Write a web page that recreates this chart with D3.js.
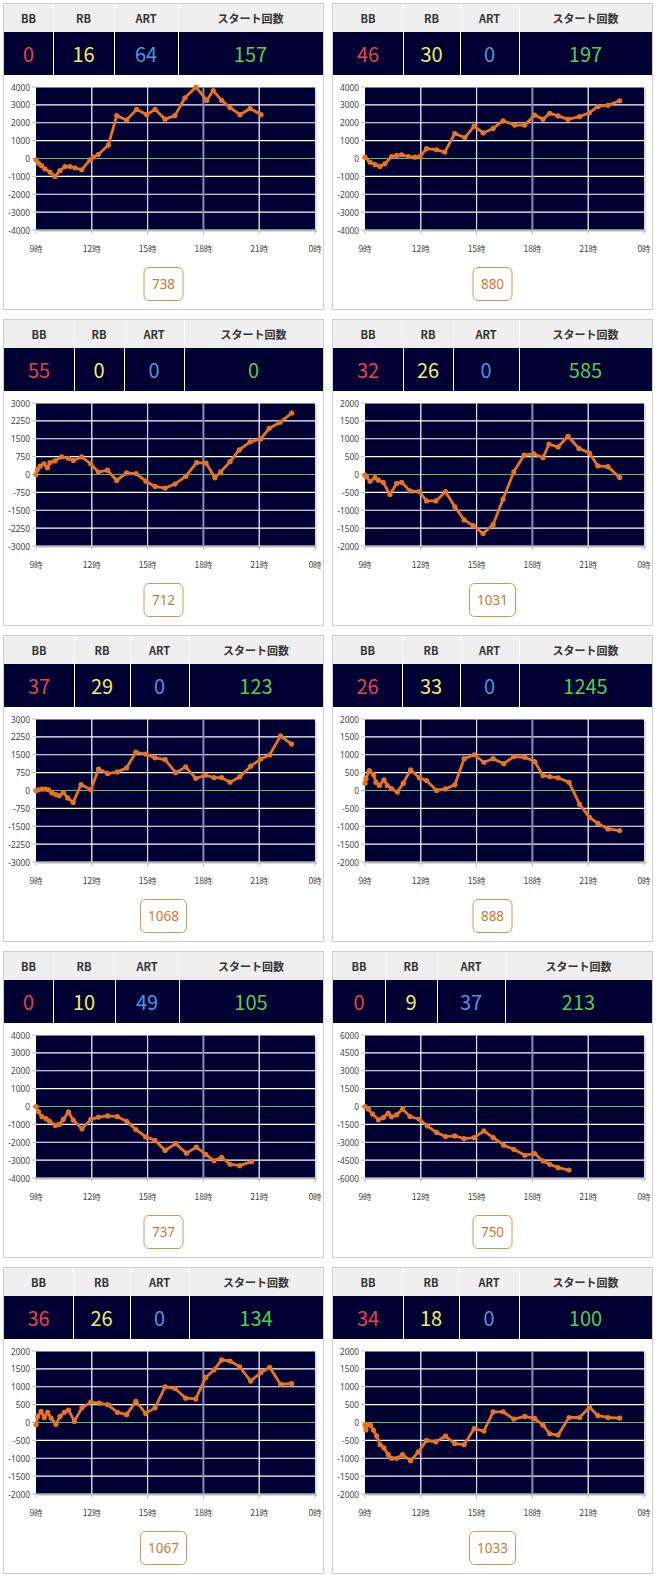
<!DOCTYPE html>
<html><head><meta charset="utf-8">
<script src="https://cdn.jsdelivr.net/npm/d3@7"></script>
<style>body{margin:0;background:#fff}</style>
</head><body><svg id="c" width="658" height="1580"></svg>
<script>
// ---------- data ----------
const headerLabels = ["BB", "RB", "ART", "スタート回数"];
const bbCounts    = [0, 46, 55, 32, 37, 26, 0, 0, 36, 34];
const rbCounts    = [16, 30, 0, 26, 29, 33, 10, 9, 26, 18];
const artCounts   = [64, 0, 0, 0, 0, 0, 49, 37, 0, 0];
const startCounts = [157, 197, 0, 585, 123, 1245, 105, 213, 134, 100];
const totalGames  = [738, 880, 712, 1031, 1068, 888, 737, 750, 1067, 1033];
const yLimits     = [4000, 4000, 3000, 2000, 3000, 2000, 4000, 6000, 2000, 2000];
const hourTicks   = [9, 12, 15, 18, 21, 24];
const hourLabels  = ["9時", "12時", "15時", "18時", "21時", "0時"];

const p1Hours = [9.0,9.13,9.30,9.48,9.75,10.02,10.29,10.56,10.83,11.10,11.46,11.90,12.08,12.35,12.89,13.34,13.87,14.41,14.95,15.40,15.94,16.47,17.01,17.60,18.18,18.53,18.98,19.43,19.97,20.51,21.10];
const p1Values = [-70,-260,-400,-580,-760,-1000,-670,-450,-450,-520,-630,-80,80,220,750,2400,2150,2750,2450,2750,2200,2400,3400,4000,3250,3800,3250,2850,2450,2800,2450];
const p2Hours = [9.0,9.27,9.54,9.80,10.07,10.43,10.70,10.97,11.33,11.68,11.95,12.31,12.85,13.29,13.83,14.37,14.87,15.35,15.89,16.42,17.05,17.59,18.12,18.57,18.93,19.38,19.91,20.54,21.07,21.52,22.06,22.69];
const p2Values = [75,-210,-340,-450,-300,110,170,210,110,75,110,550,490,360,1400,1170,1810,1430,1680,2110,1870,1870,2430,2190,2530,2380,2190,2340,2570,2910,2980,3230];
const p3Hours = [9.0,9.07,9.22,9.43,9.61,9.75,10.02,10.38,10.74,11.01,11.46,11.94,12.35,12.84,13.34,13.87,14.38,14.91,15.40,15.94,16.47,17.06,17.64,18.14,18.62,18.93,19.43,19.93,20.51,21.08,21.54,22.12,22.75];
const p3Values = [0,210,350,450,280,500,570,740,680,590,740,450,100,180,-250,70,40,-280,-500,-570,-400,-70,500,480,-140,110,540,1030,1370,1490,1940,2190,2580];
const p4Hours = [9.0,9.09,9.27,9.54,9.72,9.98,10.34,10.70,10.97,11.42,11.92,12.31,12.81,13.33,13.83,14.33,14.81,15.35,15.89,16.42,17.00,17.55,18.07,18.57,18.89,19.38,19.91,20.50,21.07,21.52,22.06,22.69];
const p4Values = [-20,-65,-190,-90,-160,-220,-560,-250,-220,-460,-480,-740,-740,-480,-900,-1270,-1430,-1650,-1400,-690,75,540,580,470,850,770,1070,730,600,240,220,-85];
const p5Hours = [9.0,9.14,9.32,9.50,9.68,9.86,10.07,10.25,10.47,10.70,11.00,11.42,11.95,12.36,12.85,13.38,13.87,14.37,14.90,15.40,15.94,16.51,17.05,17.59,18.12,18.57,18.98,19.43,19.95,20.54,21.08,21.56,22.15,22.74];
const p5Values = [0,30,60,60,30,-110,-170,-210,-85,-310,-500,250,30,900,710,780,950,1610,1530,1370,1300,750,990,510,640,540,540,350,570,1020,1320,1490,2290,1950];
const p6Hours = [9.0,9.05,9.23,9.45,9.59,9.77,10.02,10.20,10.43,10.74,11.06,11.45,11.92,12.31,12.85,13.33,13.83,14.33,14.87,15.39,15.89,16.46,17.00,17.59,18.12,18.57,18.93,19.38,19.97,20.54,21.07,21.52,22.06,22.69];
const p6Values = [205,330,560,450,230,140,300,140,50,-45,205,580,355,280,0,45,160,890,1000,790,890,750,950,930,810,420,390,355,230,-390,-750,-920,-1075,-1120];
const p7Hours = [9.0,9.14,9.32,9.54,9.72,10.04,10.25,10.47,10.75,11.00,11.47,11.95,12.36,12.85,13.38,13.88,14.37,14.90,15.40,15.94,16.51,17.09,17.62,18.12,18.57,18.98,19.43,19.95,20.59];
const p7Values = [0,-300,-570,-680,-810,-1060,-1000,-720,-300,-760,-1250,-720,-590,-530,-570,-830,-1290,-1700,-1890,-2460,-2080,-2610,-2270,-2670,-3040,-2840,-3230,-3310,-3080];
const p8Hours = [9.0,9.18,9.41,9.72,9.98,10.25,10.43,10.70,11.02,11.42,11.92,12.35,12.85,13.33,13.83,14.33,14.87,15.39,15.89,16.46,17.00,17.59,18.12,18.57,18.93,19.38,19.97];
const p8Values = [0,-220,-640,-1120,-930,-560,-870,-700,-220,-840,-1070,-1630,-2190,-2520,-2470,-2690,-2610,-2050,-2610,-3250,-3590,-4090,-3950,-4570,-4850,-5130,-5330];
const p9Hours = [9.0,9.09,9.27,9.45,9.63,9.81,10.07,10.29,10.52,10.75,11.06,11.47,11.95,12.40,12.85,13.38,13.87,14.37,14.90,15.40,15.94,16.48,17.05,17.59,18.12,18.57,18.98,19.43,19.95,20.54,21.08,21.56,22.15,22.74];
const p9Values = [-65,170,310,140,285,125,-50,170,285,350,30,410,570,540,500,285,220,590,255,410,1000,950,680,660,1260,1470,1750,1720,1560,1160,1390,1545,1070,1090];
const p10Hours = [9.0,9.05,9.18,9.30,9.45,9.63,9.81,10.02,10.25,10.43,10.70,11.02,11.45,11.86,12.31,12.81,13.33,13.83,14.33,14.87,15.39,15.89,16.42,17.00,17.59,18.12,18.57,18.93,19.38,19.97,20.54,21.07,21.52,22.06,22.69];
const p10Values = [-75,-210,-50,-75,-210,-380,-620,-710,-900,-1000,-1000,-900,-1070,-830,-500,-540,-380,-590,-620,-170,-240,300,300,95,170,115,-75,-315,-350,140,140,430,190,140,125];

const seriesHours  = [p1Hours, p2Hours, p3Hours, p4Hours, p5Hours, p6Hours, p7Hours, p8Hours, p9Hours, p10Hours];
const seriesValues = [p1Values, p2Values, p3Values, p4Values, p5Values, p6Values, p7Values, p8Values, p9Values, p10Values];

// ---------- layout (not data) ----------
const colX = [3, 332], panelW = 321, panelH = 307, rowY0 = 3, rowStep = 316;
const colSeps = [[50,111,175],[71,128,187],[71,121,181],[71,121,187],[71,127,186],[70,128,187],[50,112,176],[53,105,173],[70,127,186],[71,127,187]];
const valueColors = ["#e8424f", "#f2ee6a", "#4a98e0", "#4fd14f"];
const JP = "'Noto Sans CJK JP','Noto Sans',sans-serif";
const lineColor = "#e8741f";

const svg = d3.select("#c");
svg.append("rect").attr("width", 658).attr("height", 1580).attr("fill", "#fff");

for (let i = 0; i < 10; i++) {
  const px = colX[i % 2], py = rowY0 + Math.floor(i / 2) * rowStep;
  const g = svg.append("g").attr("transform", `translate(${px},${py})`);
  g.append("rect").attr("x", 0.5).attr("y", 0.5).attr("width", panelW - 1).attr("height", panelH - 1)
    .attr("fill", "#fff").attr("stroke", "#cfcfcf");

  // header table
  g.append("rect").attr("x", 1).attr("y", 1).attr("width", panelW - 2).attr("height", 28).attr("fill", "#efefef");
  g.append("rect").attr("x", 1).attr("y", 29).attr("width", panelW - 2).attr("height", 43).attr("fill", "#000033");
  const edges = [1, ...colSeps[i], panelW - 1];
  colSeps[i].forEach(s => {
    g.append("line").attr("x1", s + 0.5).attr("x2", s + 0.5).attr("y1", 1).attr("y2", 72)
      .attr("stroke", "#fff").attr("stroke-width", 1);
  });
  const vals = [bbCounts[i], rbCounts[i], artCounts[i], startCounts[i]];
  for (let c = 0; c < 4; c++) {
    const cx = (edges[c] + edges[c + 1]) / 2;
    g.append("text").attr("x", cx).attr("y", 15).attr("text-anchor", "middle").attr("dominant-baseline", "central")
      .attr("font-family", JP).attr("font-weight", "bold").attr("font-size", 11).attr("fill", "#333").text(headerLabels[c]);
    g.append("text").attr("x", cx).attr("y", 50).attr("text-anchor", "middle").attr("dominant-baseline", "central")
      .attr("font-family", JP).attr("font-size", 20).attr("fill", valueColors[c]).text(vals[c]);
  }

  // chart
  const x0 = 33, x1 = 312, y0 = 84, y1 = 227;
  const max = yLimits[i];
  const xs = d3.scaleLinear().domain([9, 24]).range([x0, x1]);
  const ys = d3.scaleLinear().domain([-max, max]).range([y1, y0]);
  g.append("rect").attr("x", x0 + 2).attr("y", y0 + 2).attr("width", x1 - x0).attr("height", y1 - y0).attr("fill", "#dcdcdc");
  g.append("rect").attr("x", x0).attr("y", y0).attr("width", x1 - x0).attr("height", y1 - y0).attr("fill", "#000033");
  const yTicks = d3.range(-4, 5).map(k => k * max / 4);
  yTicks.forEach(t => {
    g.append("line").attr("x1", x0).attr("x2", x1).attr("y1", ys(t)).attr("y2", ys(t))
      .attr("stroke", t === 0 ? "#5cc45c" : "#ffffff").attr("stroke-width", 1.2);
    g.append("line").attr("x1", x0 - 4).attr("x2", x0).attr("y1", ys(t)).attr("y2", ys(t)).attr("stroke", "#bbb");
    g.append("text").attr("x", x0 - 6).attr("y", ys(t)).attr("text-anchor", "end").attr("dominant-baseline", "central")
      .attr("font-family", "'Noto Sans',sans-serif").attr("font-size", 8.3).attr("fill", "#444").text(t);
  });
  hourTicks.forEach((h, k) => {
    if (h > 9 && h < 24) {
      g.append("line").attr("x1", xs(h)).attr("x2", xs(h)).attr("y1", y0).attr("y2", y1)
        .attr("stroke", h === 18 ? "#8c8cb8" : (h === 15 ? "#dcdcec" : "#ffffff"))
        .attr("stroke-width", h === 18 ? 2 : 1.2);
    }
    g.append("line").attr("x1", xs(h)).attr("x2", xs(h)).attr("y1", y1).attr("y2", y1 + 4).attr("stroke", "#bbb");
    g.append("text").attr("x", xs(h)).attr("y", 245).attr("text-anchor", "middle").attr("dominant-baseline", "central")
      .attr("font-family", JP).attr("font-size", 8.5).attr("fill", "#444").text(hourLabels[k]);
  });
  g.append("line").attr("x1", x0).attr("x2", x1 + 2).attr("y1", y1 + 0.5).attr("y2", y1 + 0.5).attr("stroke", "#bbb");

  const pts = seriesHours[i].map((h, k) => [h, seriesValues[i][k]]);
  g.append("path").datum(pts)
    .attr("d", d3.line().x(d => xs(d[0])).y(d => ys(d[1])))
    .attr("fill", "none").attr("stroke", lineColor).attr("stroke-width", 2.8).attr("stroke-linejoin", "round");
  g.selectAll("circle.p").data(pts).enter().append("circle")
    .attr("cx", d => xs(d[0])).attr("cy", d => ys(d[1])).attr("r", 2.6).attr("fill", lineColor);

  // badge
  const label = String(totalGames[i]);
  const bw = label.length > 3 ? 46 : 39;
  g.append("rect").attr("x", panelW / 2 - bw / 2).attr("y", 264.5).attr("width", bw).attr("height", 33)
    .attr("rx", 5).attr("fill", "#fff").attr("stroke", "#d8934f").attr("stroke-width", 1);
  g.append("text").attr("x", panelW / 2).attr("y", 281).attr("text-anchor", "middle").attr("dominant-baseline", "central")
    .attr("font-family", "'Noto Sans',sans-serif").attr("font-size", 13.5).attr("fill", "#cc7a33").text(label);
}
</script></body></html>
